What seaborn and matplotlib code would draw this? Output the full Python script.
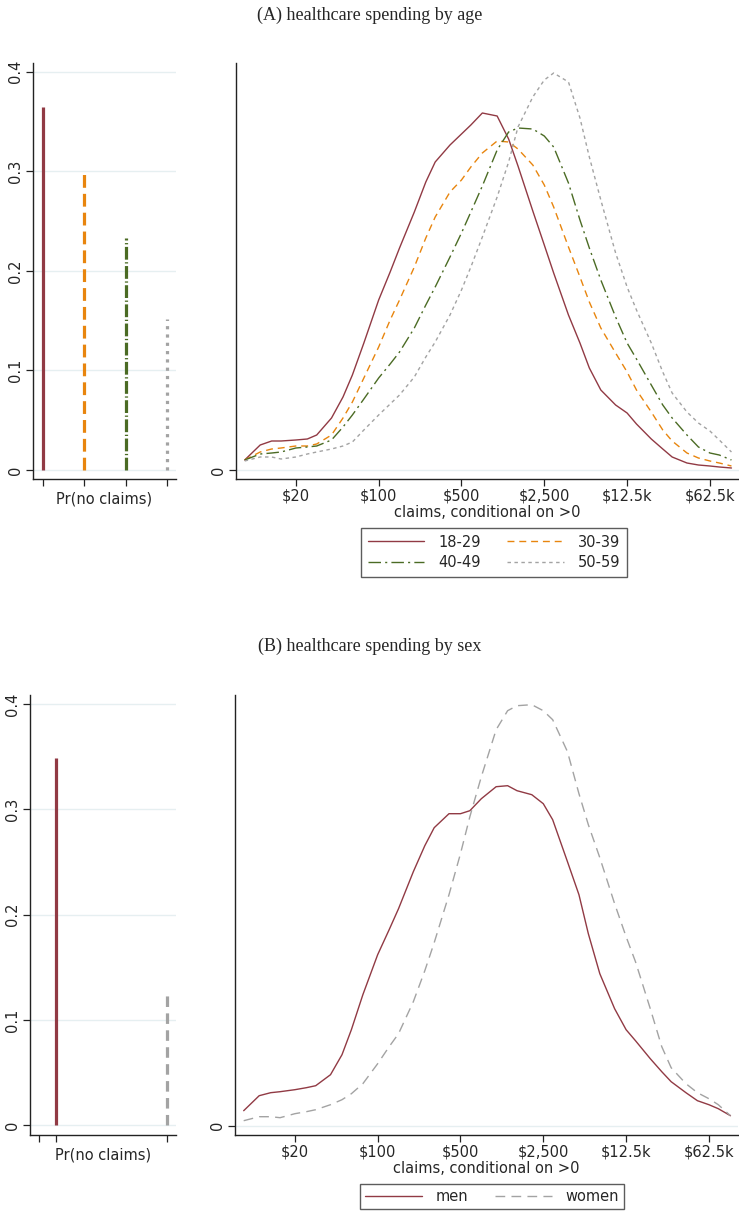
import numpy as np
import pandas as pd
import matplotlib
matplotlib.use("Agg")
import matplotlib.pyplot as plt
from matplotlib.lines import Line2D
import seaborn as sns

sns.set_theme(style="white")
plt.rcParams["font.family"] = ["DejaVu Sans"]

# ---------------- data ----------------
age_groups = ["18-29", "30-39", "40-49", "50-59"]
p_no_claims_age = [0.365, 0.297, 0.233, 0.152]

sex_groups = ["men", "women"]
p_no_claims_sex = [0.349, 0.126]

claims_grid = [7.4, 10, 12.5, 15, 20, 25, 30, 40, 50, 60, 75, 100, 125, 150, 200, 250,
               300, 400, 500, 600, 750, 1000, 1250, 1500, 2000, 2500, 3000, 4000, 5000,
               6000, 7500, 10000, 12500, 15000, 20000, 25000, 30000, 40000, 50000,
               62500, 75000, 95000]

dens_18_29 = [10, 25, 29, 29, 30, 31, 35, 52, 73, 95, 127, 170, 198, 222, 258, 288,
              308, 325, 336, 345, 357, 354, 331, 304, 259, 225, 197, 155, 127, 102, 80,
              65, 57, 46, 31, 21, 13, 7, 5, 4, 3, 2]
dens_30_39 = [10, 18, 21, 22, 24, 24, 26, 35, 52, 68, 92, 123, 150, 170, 203, 232,
              253, 278, 290, 303, 317, 329, 328, 321, 305, 285, 263, 223, 193, 168, 142,
              117, 98, 80, 58, 40, 29, 17, 12, 9, 7, 4]
dens_40_49 = [10, 16, 17, 18, 22, 23, 24, 30, 43, 55, 71, 92, 106, 118, 142, 165,
              183, 213, 237, 258, 284, 320, 338, 342, 341, 334, 323, 287, 250, 222, 190,
              153, 127, 111, 85, 65, 52, 35, 23, 17, 15, 10]
dens_50_59 = [9, 13, 13, 11, 13, 16, 18, 21, 24, 28, 40, 55, 66, 75, 93, 113,
              128, 155, 180, 203, 233, 273, 308, 343, 373, 390, 397, 388, 352, 313, 270,
              217, 183, 160, 127, 98, 77, 58, 47, 39, 30, 18]

dens_men = [15, 30, 33, 34, 36, 38, 40, 51, 71, 96, 131, 171, 196, 217, 254, 280,
            298, 312, 312, 315, 327, 339, 340, 335, 331, 322, 306, 264, 231, 192, 152,
            117, 96, 85, 67, 54, 44, 33, 25, 21, 17, 10]
dens_women = [5, 9, 9, 8, 12, 14, 16, 21, 26, 32, 42, 62, 79, 92, 124, 155,
              183, 231, 272, 309, 349, 396, 415, 420, 421, 415, 406, 374, 332, 301, 268,
              222, 189, 164, 117, 79, 58, 42, 33, 27, 21, 10]

tick_values = [20, 100, 500, 2500, 12500, 62500]
tick_labels = ["$20", "$100", "$500", "$2,500", "$12.5k", "$62.5k"]

# ---------------- styles ----------------
RED = "#913a44"
ORANGE = "#e8850e"
GREEN = "#4b6b24"
GRAY = "#a3a3a3"
GRID = "#e6eff1"

age_colors = dict(zip(age_groups, [RED, ORANGE, GREEN, GRAY]))
age_dashes = dict(zip(age_groups, ["", (5, 3.5), (9, 3, 1.5, 3), (2.5, 2.5)]))
spike_ls_age = ["solid", (0, (4, 1.9)), (0, (4, 0.8, 0.4, 0.8)), (0, (1, 1.6))]

sex_colors = dict(zip(sex_groups, [RED, GRAY]))
sex_dashes = dict(zip(sex_groups, ["", (7, 4.5)]))
spike_ls_sex = ["solid", (0, (3.3, 2))]

FS = 10.5
W, H = 739, 1215
fig = plt.figure(figsize=(W / 100, H / 100), dpi=100)


def ax_px(l, r, t, b):
    return fig.add_axes([l / W, 1 - b / H, (r - l) / W, (b - t) / H])


def style_axes(ax):
    for s in ["top", "right"]:
        ax.spines[s].set_visible(False)
    for s in ["left", "bottom"]:
        ax.spines[s].set_color("#222222")
        ax.spines[s].set_linewidth(1.0)
    ax.tick_params(axis="both", which="both", direction="out", length=5, width=0.9,
                   color="#222222", labelsize=FS, pad=2, bottom=True, left=True)
    ax.grid(False)


def spike_panel(ax, positions, values, colors, styles, xticks, xlim, ylim):
    for p, v, c, ls in zip(positions, values, colors, styles):
        ax.vlines([p], [0], [v], colors=c, linewidth=2.3, linestyles=[ls], zorder=3)
    for g in [0, 0.1, 0.2, 0.3, 0.4]:
        ax.axhline(g, color=GRID, lw=1.0, zorder=1)
    ax.set_xlim(*xlim)
    ax.set_ylim(*ylim)
    ax.set_yticks([0, 0.1, 0.2, 0.3, 0.4])
    ax.set_yticklabels(["0", "0.1", "0.2", "0.3", "0.4"], rotation=90, va="center")
    ax.set_xticks(xticks)
    ax.set_xticklabels([""] * len(xticks))
    ax.set_xlabel("Pr(no claims)", fontsize=FS, labelpad=2)
    ax.set_ylabel("")
    style_axes(ax)


def density_panel(ax, df, hue_order, colors, dashes, ylim):
    ax.axhline(0, color=GRID, lw=1.0, zorder=1)
    sns.lineplot(data=df, x="claims", y="density", hue="group", style="group",
                 hue_order=hue_order, style_order=hue_order, palette=colors,
                 dashes=dashes, linewidth=1.0, legend=False, ax=ax, zorder=3)
    ax.set_xscale("log")
    ax.set_xlim(6.25, 110000)
    ax.set_ylim(*ylim)
    ax.set_xticks(tick_values)
    ax.set_xticklabels(tick_labels)
    ax.minorticks_off()
    ax.set_yticks([0])
    ax.set_yticklabels(["0"], rotation=90, va="center")
    ax.set_xlabel("claims, conditional on >0", fontsize=FS, labelpad=1)
    ax.set_ylabel("")
    style_axes(ax)


def long_df(groups, series):
    rows = []
    for g, s in zip(groups, series):
        for x, y in zip(claims_grid, s):
            rows.append((g, x, y / 1000.0))
    return pd.DataFrame(rows, columns=["group", "claims", "density"])


def make_handle(color, dash):
    if dash:
        return Line2D([], [], color=color, lw=1.0, dashes=dash)
    return Line2D([], [], color=color, lw=1.0, linestyle="-")


# ---------------- panel A ----------------
fig.text(370 / W, 1 - 15 / H, "(A) healthcare spending by age", ha="center", va="center",
         fontsize=13, family=["Liberation Serif"])

axA1 = ax_px(33, 176, 63, 479)
spike_panel(axA1, [1, 2, 3, 4], p_no_claims_age, [age_colors[g] for g in age_groups],
            spike_ls_age, [1, 2, 3, 4], (0.76, 4.22), (-0.009, 0.4087))

axA2 = ax_px(236, 739, 63, 479)
density_panel(axA2, long_df(age_groups, [dens_18_29, dens_30_39, dens_40_49, dens_50_59]),
              age_groups, age_colors, age_dashes, (-0.009, 0.407))

# row-wise legend order: matplotlib fills columns first
legA_order = [age_groups[0], age_groups[2], age_groups[1], age_groups[3]]
handlesA = [make_handle(age_colors[g], age_dashes[g]) for g in legA_order]
legA = fig.legend(handlesA, legA_order, ncol=2, loc="upper left",
                  bbox_to_anchor=(361 / W, 1 - 528 / H), fontsize=FS, frameon=True,
                  fancybox=False, edgecolor="#333333", handlelength=3.9,
                  handletextpad=0.95, columnspacing=1.8, borderpad=0.45,
                  labelspacing=0.4, borderaxespad=0)
legA.get_frame().set_linewidth(1.0)

# ---------------- panel B ----------------
fig.text(370 / W, 1 - 646 / H, "(B) healthcare spending by sex", ha="center", va="center",
         fontsize=13, family=["Liberation Serif"])

axB1 = ax_px(30, 176, 695, 1135)
spike_panel(axB1, [1, 2], p_no_claims_sex, [sex_colors[g] for g in sex_groups],
            spike_ls_sex, [0.85, 1, 2], (0.765, 2.084), (-0.0093, 0.4087))

axB2 = ax_px(235, 738, 695, 1135)
density_panel(axB2, long_df(sex_groups, [dens_men, dens_women]),
              sex_groups, sex_colors, sex_dashes, (-0.0093, 0.4307))

handlesB = [make_handle(sex_colors[g], sex_dashes[g]) for g in sex_groups]
legB = fig.legend(handlesB, sex_groups, ncol=2, loc="upper left",
                  bbox_to_anchor=(360 / W, 1 - 1184 / H), fontsize=FS, frameon=True,
                  fancybox=False, edgecolor="#333333", handlelength=3.9,
                  handletextpad=0.95, columnspacing=1.8, borderpad=0.35,
                  labelspacing=0.4, borderaxespad=0)
legB.get_frame().set_linewidth(1.0)

fig.savefig("out.png", dpi=100, facecolor="white")
